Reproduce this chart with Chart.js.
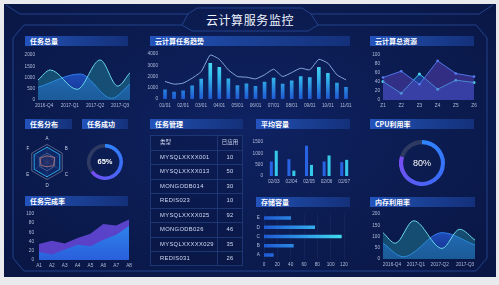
<!DOCTYPE html>
<html><head><meta charset="utf-8">
<script src="https://cdn.jsdelivr.net/npm/chart.js@4.4.0/dist/chart.umd.min.js"></script>
<style>
html,body{margin:0;padding:0;background:#e8eaee;width:499px;height:285px;overflow:hidden;font-family:"Noto Sans CJK SC","Noto Sans",sans-serif;}
#board{position:absolute;left:4px;top:4px;width:492px;height:273px;background:radial-gradient(ellipse at 50% 45%,#0f2262 0%,#0b1b4e 60%,#091644 100%);}
.hdr{position:absolute;height:10px;background:linear-gradient(90deg,#2453bd 0%,#1b4298 45%,#14307a 100%);color:#fff;font-size:7px;font-weight:bold;line-height:10px;padding-left:5px;box-sizing:border-box;white-space:nowrap;}
.t{position:absolute;color:#d2dbf3;font-family:"Liberation Sans",Arial,sans-serif;font-size:5.8px;letter-spacing:0.35px;line-height:8px;white-space:nowrap;}
</style></head>
<body>
<div id="board"></div>
<svg width="499" height="285" style="position:absolute;left:0;top:0">
<g fill="none" stroke="#2a4c9c" stroke-width="0.8">
<path d="M6 5 L20 14 L188 14 L197 8 L302 8 L311 14 L479 14 L493 5"/>
<path d="M13 38 L24 25 L182 25 L192 31 L308 31 L318 25 L476 25 L487 38 L487 258 L476 271 L24 271 L13 258 Z"/>
<path d="M188 14 L182 25 M311 14 L318 25"/>
</g>
</svg>
<div style="position:absolute;left:150px;top:12px;width:200px;text-align:center;color:#eef3ff;font-size:12px;line-height:16px;letter-spacing:0.6px;">云计算服务监控</div>
<script>
// ---------- data ----------
const q1Ticks = [0.8, 4.15, 7.45, 10.7];
const q1Labels = ['2016-Q4','2017-Q1','2017-Q2','2017-Q3'];
const totalTealX = [0, 1.6, 5.1, 8.1, 10.4, 12];
const totalTeal  = [889, 1333, 474, 1778, 620, 1215];
const totalBlueX = [0, 5.5, 9.6, 12];
const totalBlue  = [563, 1155, 74, 711];

const trendCats = ['01/01','01/15','02/01','02/15','03/01','03/15','04/01','04/15','05/01','05/15','06/01','06/15','07/01','07/15','08/01','08/15','09/01','09/15','10/01','10/15','11/01'];
const trendBars = [820,620,735,1180,1760,3180,2820,1790,1200,1350,1120,1500,1850,1320,1620,2000,1910,2820,2290,1410,1030];
const trendLine = [1560,1320,1410,1850,2440,3910,3530,2590,2000,1940,1790,2150,2650,2000,2350,2740,2590,3530,3180,2150,1700];

const resCats = ['Z1','Z2','Z3','Z4','Z5','Z6'];
const resA = [50, 64, 35, 87, 59, 52];
const resB = [41, 15, 58, 24, 44, 39];

const radarLabels = ['A','B','C','D','E','F'];
const radarA = [84, 84, 84, 84, 84, 84];
const radarB = [35, 50, 43, 27, 40, 45];

const successPct = 65;
const cpuPct = 80;

const tblHead = ['类型','已应用'];
const tblType = ['MYSQLXXXX001','MYSQLXXXX013','MONGODB014','REDIS023','MYSQLXXXX025','MONGODB026','MYSQLXXXXX029','REDIS031'];
const tblUsed = [10, 50, 30, 10, 92, 46, 35, 26];

const avgCats = ['02/03','02/04','02/05','02/06','02/07'];
const avgBlue = [640, 743, 1337, 640, 610];
const avgCyan = [1114, 238, 490, 906, 713];

const doneCats = ['A1','A2','A3','A4','A5','A6','A7','A8'];
const donePurple = [35, 42, 36, 48, 57, 78, 75, 88];
const doneBlue = [18, 12, 23, 33, 30, 44, 55, 74];

const storeCats = ['E','D','C','B','A'];
const storeVals = [40, 76, 116, 44, 14];

const memTicks = [1.17, 4.3, 7.4, 10.7];
const memTealX = [0, 1.6, 4.0, 7.7, 10.0, 12];
const memTeal  = [117, 70, 170, 47, 132, 84];
const memBlueX = [0, 2.65, 7.7, 12];
const memBlue  = [70, 10, 117, 62];

const headers = [['任务总量',25,36,103],['云计算任务趋势',150,36,200],['云计算总资源',370,36,104],['任务分布',25,119,47],['任务成功',82,119,46],['任务管理',150,119,93],['平均容量',256,119,94],['CPU利用率',370,119,104],['任务完成率',25,196,103],['存储容量',256,197,94],['内存利用率',370,197,105]];

// ---------- helpers ----------
const TK = '#b2bcdb', FONT = '"Liberation Sans", Arial, sans-serif', FS = 4.7;
const f = s => ({size: s, family: FONT});
const zip = (xs, ys) => xs.map((x, i) => ({x, y: ys[i]}));
const NOGRID = {display:false, drawTicks:false};
function zeroPad(s){s.paddingLeft=0;s.paddingRight=0;s.paddingTop=0;s.paddingBottom=0;}
function el(tag, css, txt){const e=document.createElement(tag);e.style.cssText=css;if(txt!==undefined)e.textContent=txt;document.body.appendChild(e);return e;}

headers.forEach(h => { const d = el('div', `left:${h[1]}px;top:${h[2]}px;width:${h[3]}px`, h[0]); d.className='hdr'; });

function make(cx, cy, cw, ch, area, cfg){
  const c = document.createElement('canvas');
  c.width = cw; c.height = ch;
  c.style.cssText = `position:absolute;left:${cx}px;top:${cy}px;width:${cw}px;height:${ch}px`;
  document.body.appendChild(c);
  const o = cfg.options = cfg.options || {};
  o.responsive = false; o.animation = false; o.devicePixelRatio = 1;
  o.plugins = Object.assign({legend:{display:false}, tooltip:{enabled:false}}, o.plugins || {});
  if (area){
    o.layout = {padding:{top:area.t-cy, right:cx+cw-area.r, left:0, bottom:0}};
    o.scales.y.afterFit = s => { s.width = area.l - cx; zeroPad(s); };
    o.scales.x.afterFit = s => { s.height = cy + ch - area.b; zeroPad(s); };
  }
  return new Chart(c, cfg);
}
function valAxis(min, max, step, pad, extra){
  return Object.assign({min, max, ticks:{stepSize:step, color:TK, font:f(FS), padding:pad, maxRotation:0, autoSkip:false, callback:v=>String(v)}, grid:NOGRID, border:{display:false}}, extra||{});
}
function catAxis(pad, cb){
  const t = {color:TK, font:f(FS), padding:pad, autoSkip:false, maxRotation:0};
  if (cb) t.callback = cb;
  return {ticks:t, grid:NOGRID, border:{display:false}};
}
function linX(min, max, pos, labels, pad){
  return {type:'linear', min, max, afterBuildTicks: s => { s.ticks = pos.map(v => ({value:v})); },
    ticks:{color:TK, font:f(FS), padding:pad, maxRotation:0, autoSkip:false, callback:(v,i)=>labels[i]},
    grid:NOGRID, border:{display:false}};
}
function vGrad(colors){
  return ctx => { const a = ctx.chart.chartArea; if(!a) return colors[0];
    const g = ctx.chart.ctx.createLinearGradient(0, a.bottom, 0, a.top);
    colors.forEach((c,i)=>g.addColorStop(i/(colors.length-1), c)); return g; };
}
function hGrad(colors){
  return ctx => { const a = ctx.chart.chartArea; if(!a) return colors[0];
    const g = ctx.chart.ctx.createLinearGradient(a.left, 0, a.right, 0);
    colors.forEach((c,i)=>g.addColorStop(i/(colors.length-1), c)); return g; };
}
function wave(cx, cy, area, tealX, teal, blueX, blue, max, step, ticks, labels){
  make(cx, cy, 118, 64, area, {
    type:'line',
    data:{datasets:[
      {data:zip(tealX, teal), borderColor:'#6ad6e8', borderWidth:1, backgroundColor:'rgba(40,160,175,0.38)', fill:'origin', pointRadius:0, cubicInterpolationMode:'monotone', order:1},
      {data:zip(blueX, blue), borderColor:'#2f7ef2', borderWidth:1, backgroundColor:vGrad(['rgba(30,70,190,0.55)','rgba(40,105,235,0.95)']), fill:'origin', pointRadius:0, cubicInterpolationMode:'monotone', order:2}
    ]},
    options:{scales:{x:linX(0, 12, ticks, labels, 3), y:valAxis(0, max, step, 3)}}
  });
}

// ---------- 任务总量 ----------
wave(18, 48, {l:38, t:55, r:130, b:100}, totalTealX, totalTeal, totalBlueX, totalBlue, 2000, 500, q1Ticks, q1Labels);

// ---------- 云计算任务趋势 ----------
make(145, 48, 210, 64, {l:160.5, t:54, r:350.5, b:99}, {
  data:{labels:trendCats, datasets:[
    {type:'line', data:trendLine, borderColor:'#86a8dc', borderWidth:1, pointRadius:0, tension:0.15, fill:false, order:1},
    {type:'bar', data:trendBars, backgroundColor:vGrad(['#1f58d2','#34bdec','#5be6f8']), barThickness:3, order:2}
  ]},
  options:{scales:{x:catAxis(4, function(v,i){return i%2===0 ? trendCats[i] : '';}), y:valAxis(0, 4000, 1000, 2.5)}}
});

// ---------- 云计算总资源 ----------
make(362, 48, 118, 64, {l:383, t:55, r:474, b:100}, {
  type:'line',
  data:{labels:resCats, datasets:[
    {data:resA, borderColor:'#4f74ea', borderWidth:1, backgroundColor:'rgba(88,66,185,0.5)', fill:'origin', pointRadius:1.3, pointBackgroundColor:'#5a7df0', pointBorderWidth:0, tension:0},
    {data:resB, borderColor:'#3ccaeb', borderWidth:1, backgroundColor:'rgba(35,95,210,0.5)', fill:'origin', pointRadius:1.5, pointBackgroundColor:'#4ad8f2', pointBorderWidth:0, tension:0}
  ]},
  options:{scales:{x:Object.assign(catAxis(3), {offset:false}), y:valAxis(0, 100, 20, 3)}}
});

// ---------- 任务分布 (radar) ----------
make(14, 136, 66, 52, null, {
  type:'radar',
  data:{labels:radarLabels, datasets:[
    {data:radarA, borderColor:'#2aa6ea', borderWidth:1, backgroundColor:'rgba(28,80,185,0.22)', pointRadius:0},
    {data:radarB, borderColor:'#ea8c6c', borderWidth:0.8, backgroundColor:'rgba(120,60,80,0.2)', pointRadius:0}
  ]},
  options:{layout:{padding:0}, scales:{r:{min:0, max:100, ticks:{display:false, stepSize:50}, grid:{color:'#8792b0', lineWidth:0.6}, angleLines:{color:'#3a4875', lineWidth:0.5}, pointLabels:{color:'#c8d0e8', font:f(4.5), padding:3}}}}
});

// ---------- doughnuts ----------
function ring(cx, cy, size, pct, cut, txt, fs, fw){
  make(cx, cy, size, size, null, {
    type:'doughnut',
    data:{datasets:[{data:[pct, 100-pct], borderWidth:0,
      backgroundColor: ctx => {
        if (ctx.dataIndex === 1) return '#2e3a62';
        const ch = ctx.chart, a = ch.chartArea; if(!a) return '#2f8cff';
        const g = ch.ctx.createConicGradient(-Math.PI/2, (a.left+a.right)/2, (a.top+a.bottom)/2);
        g.addColorStop(0, '#2f86ff'); g.addColorStop(pct/100*0.45, '#3a6cf6'); g.addColorStop(pct/100, '#7a4cf2'); g.addColorStop(1, '#7a4cf2');
        return g;
      }}]},
    options:{cutout:cut, layout:{padding:0}}
  });
  el('div', `position:absolute;left:${cx}px;top:${cy + size/2 - 7}px;width:${size}px;text-align:center;color:#fff;font-family:${FONT};font-size:${fs}px;font-weight:${fw};line-height:14px;`, txt);
}
ring(87, 144, 36, successPct, '80%', successPct + '%', 7.5, 'bold');
ring(399, 140, 46, cpuPct, '82%', cpuPct + '%', 9, 'normal');

// ---------- 任务管理 table ----------
(function(){
  const L=150, T=135, W=93, RH=14.5, N=tblType.length+1, DIV=217;
  el('div', `position:absolute;left:${L}px;top:${T}px;width:${W}px;height:${RH*N}px;border:1px solid #1d3775;box-sizing:border-box;background:rgba(8,20,62,0.35)`);
  el('div', `position:absolute;left:${DIV}px;top:${T}px;width:1px;height:${RH*N}px;background:#1d3775`);
  for (let i=1;i<N;i++) el('div', `position:absolute;left:${L}px;top:${T+RH*i}px;width:${W}px;height:1px;background:#1d3775`);
  const rows = [[tblHead[0], tblHead[1]]].concat(tblType.map((t,i)=>[t, String(tblUsed[i])]));
  rows.forEach((r,i)=>{
    const y = T + RH*i + RH/2 - 4;
    const hf = i===0 ? 'font-family:"Noto Sans CJK SC",sans-serif;font-size:5.5px;letter-spacing:0;' : '';
    const a = el('div', `left:160px;top:${y}px;${hf}`, r[0]); a.className='t';
    const b = el('div', `left:${DIV}px;top:${y}px;width:${L+W-DIV}px;text-align:center;${hf}`, r[1]); b.className='t';
  });
})();

// ---------- 平均容量 ----------
make(250, 136, 106, 52, {l:265, t:142, r:353, b:176}, {
  type:'bar',
  data:{labels:avgCats, datasets:[
    {data:avgBlue, backgroundColor:'#2763e2', categoryPercentage:0.56, barPercentage:0.62},
    {data:avgCyan, backgroundColor:'#35c8e8', categoryPercentage:0.56, barPercentage:0.62}
  ]},
  options:{scales:{x:catAxis(3), y:valAxis(0, 1500, 500, 2)}}
});

// ---------- 任务完成率 ----------
make(18, 208, 116, 64, {l:39, t:214, r:129, b:260}, {
  type:'line',
  data:{labels:doneCats, datasets:[
    {data:doneBlue, borderWidth:0, backgroundColor:vGrad(['#2a5fdc','#2f8ff0']), fill:'origin', pointRadius:0, tension:0, order:1},
    {data:donePurple, borderWidth:0, backgroundColor:vGrad(['#5b3fc6','#5a44cc']), fill:'origin', pointRadius:0, tension:0, order:2}
  ]},
  options:{scales:{x:Object.assign(catAxis(3), {offset:false}), y:valAxis(0, 100, 20, 5)}}
});

// ---------- 存储容量 ----------
make(250, 208, 100, 64, {l:264, t:213.4, r:344, b:259.6}, {
  type:'bar',
  data:{labels:storeCats, datasets:[
    {data:storeVals, backgroundColor:hGrad(['#1f5ad4','#2f9ae8','#40e0f0']), barThickness:3}
  ]},
  options:{indexAxis:'y', scales:{
    x:valAxis(0, 120, 20, 2.5, {grid:{display:true, color:'rgba(90,120,190,0.18)', lineWidth:0.5, drawTicks:false}}),
    y:catAxis(4)
  }}
});

// ---------- 内存利用率 ----------
wave(362, 208, {l:383, t:214, r:475, b:259}, memTealX, memTeal, memBlueX, memBlue, 200, 50, memTicks, q1Labels);
</script>
</body></html>
